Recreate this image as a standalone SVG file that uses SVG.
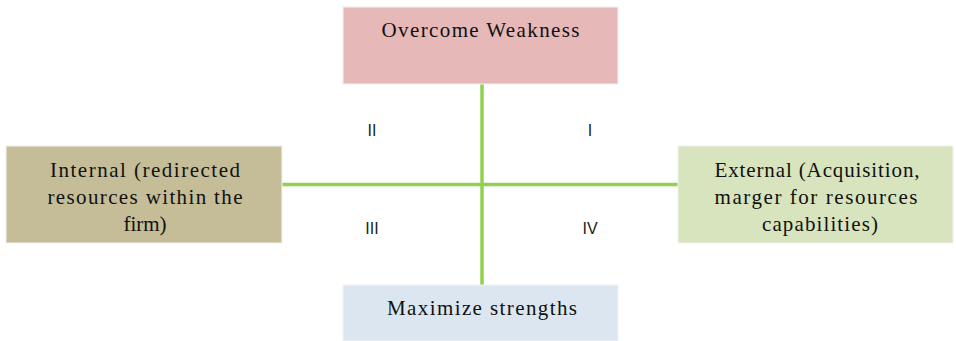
<svg xmlns="http://www.w3.org/2000/svg" width="956" height="341" viewBox="0 0 956 341">
<style>
.box{stroke:#f2f2f2;stroke-width:1}
.t{font-family:"Liberation Serif","Times New Roman",serif;font-size:21px;fill:#111;text-anchor:middle}
.q{font-family:"Liberation Sans",Arial,sans-serif;font-size:16px;fill:#222;text-anchor:middle}
.ln{stroke:#92d050;stroke-width:3.5;fill:none}
</style>
<rect width="956" height="341" fill="#ffffff"/>
<g id="connectors">
<line class="ln" x1="482" y1="84" x2="482" y2="285"/>
<line class="ln" x1="282" y1="184.5" x2="678" y2="184.5"/>
</g>
<g id="top">
<rect class="box" x="343" y="7" width="275" height="77" fill="#e6b8b7"/>
<text class="t" x="480.5" y="37" textLength="198" lengthAdjust="spacing">Overcome Weakness</text>
</g>
<g id="left">
<rect class="box" x="6" y="146" width="276" height="97" fill="#c4bd97"/>
<text class="t" x="145" y="177" textLength="190" lengthAdjust="spacing">Internal (redirected</text>
<text class="t" x="145" y="204" textLength="195" lengthAdjust="spacing">resources within the</text>
<text class="t" x="145" y="231">firm)</text>
</g>
<g id="right">
<rect class="box" x="678" y="146" width="275" height="97" fill="#d7e4bd"/>
<text class="t" x="817" y="177" textLength="205" lengthAdjust="spacing">External (Acquisition,</text>
<text class="t" x="816" y="204" textLength="203" lengthAdjust="spacing">marger for resources</text>
<text class="t" x="820" y="231" textLength="116" lengthAdjust="spacing">capabilities)</text>
</g>
<g id="bottom">
<rect class="box" x="343" y="285" width="275" height="56" fill="#dce6f1"/>
<text class="t" x="482" y="315" textLength="190" lengthAdjust="spacing">Maximize strengths</text>
</g>
<g id="quadrants">
<text class="q" x="372" y="136">II</text>
<text class="q" x="590" y="136">I</text>
<text class="q" x="372" y="234">III</text>
<text class="q" x="590" y="234">IV</text>
</g>
</svg>
